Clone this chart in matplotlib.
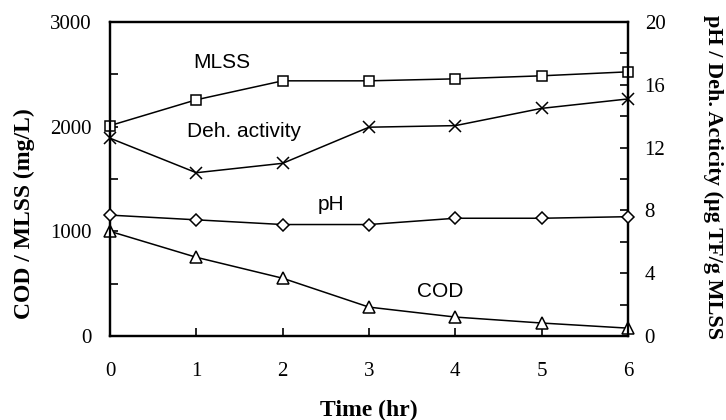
import matplotlib
matplotlib.use("Agg")
import matplotlib.pyplot as plt
from matplotlib.ticker import MultipleLocator

# sampling times and measured values
hours = [0, 1, 2, 3, 4, 5, 6]
mlss = [2010, 2257, 2438, 2438, 2457, 2486, 2524]
cod = [1000, 752, 552, 276, 181, 124, 75]
deh_activity = [12.6, 10.4, 11.0, 13.3, 13.4, 14.5, 15.1]
ph = [7.7, 7.4, 7.1, 7.1, 7.5, 7.5, 7.6]

serif = "Liberation Serif"
sans = "Liberation Sans"

fig = plt.figure(figsize=(7.26, 4.2), dpi=100)
ax = fig.add_axes([0.1515, 0.200, 0.7135, 0.7476])
ax2 = ax.twinx()

style = dict(color="black", lw=1.1, markerfacecolor="white", markeredgecolor="black",
             markeredgewidth=1.1, clip_on=False, zorder=3)
ax.plot(hours, mlss, marker="s", markersize=7.5, **style)
ax.plot(hours, cod, marker="^", markersize=8, **style)
ax2.plot(hours, deh_activity, marker="x", markersize=8, **style)
ax2.plot(hours, ph, marker="D", markersize=6.5, **style)

ax.set_xlim(0, 6)
ax.set_ylim(0, 3000)
ax2.set_ylim(0, 20)
ax.xaxis.set_major_locator(MultipleLocator(1))
ax.yaxis.set_major_locator(MultipleLocator(1000))
ax.yaxis.set_minor_locator(MultipleLocator(500))
ax2.yaxis.set_major_locator(MultipleLocator(4))
ax2.yaxis.set_minor_locator(MultipleLocator(2))

for a in (ax, ax2):
    for s in a.spines.values():
        s.set_linewidth(1.6)
    a.tick_params(which="both", direction="in", width=1.2, length=6, labelsize=15)
    for lab in a.get_xticklabels() + a.get_yticklabels():
        lab.set_fontfamily(serif)
ax.tick_params(axis="x", pad=19)
ax.tick_params(axis="y", pad=13)
ax2.tick_params(axis="y", pad=12)

ax.set_xlabel("Time (hr)", fontfamily=serif, fontweight="bold", fontsize=17, labelpad=13)
fig.text(24 / 726, 1 - 214 / 420, "COD / MLSS (mg/L)", fontfamily=serif, fontweight="bold",
         fontsize=17, rotation=90, ha="center", va="center")
fig.text(713 / 726, 1 - 177 / 420, "pH / Deh. Acticity (\u00b5g TF/g MLSS", fontfamily=serif,
         fontweight="bold", fontsize=16, rotation=-90, ha="center", va="center")

ax.text(1.29, 2610, "MLSS", fontfamily=sans, fontsize=15, ha="center", va="center")
ax.text(1.55, 1950, "Deh. activity", fontfamily=sans, fontsize=15, ha="center", va="center")
ax.text(2.56, 1260, "pH", fontfamily=sans, fontsize=15, ha="center", va="center")
ax.text(3.82, 425, "COD", fontfamily=sans, fontsize=15, ha="center", va="center")

fig.savefig("out.png", dpi=100)
